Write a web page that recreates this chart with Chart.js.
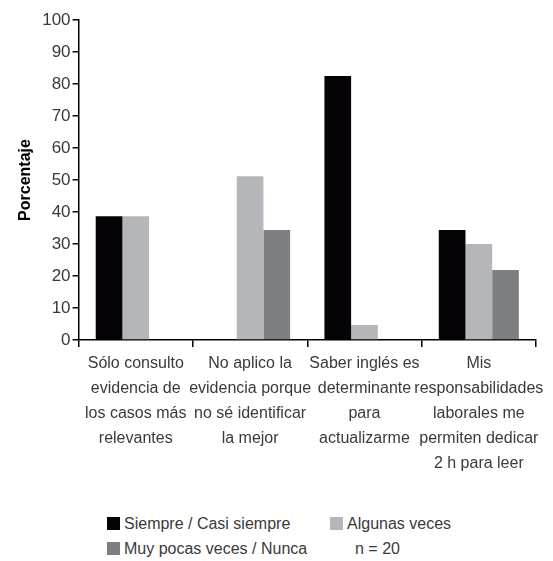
<!DOCTYPE html>
<html>
<head>
<meta charset="utf-8">
<script src="https://cdn.jsdelivr.net/npm/chart.js@4.4.1/dist/chart.umd.min.js"></script>
<style>
    body { margin: 0; background: #fff; }
    #wrap { position: relative; width: 553px; height: 561px; }
    #legend {
        position: absolute; left: 107px; top: 511px;
        font-family: "Liberation Sans", Arial, sans-serif;
        font-size: 16px; color: #3a3a3a;
    }
    .row { display: flex; height: 25px; align-items: center; }
    .item { display: flex; align-items: center; width: 223px; }
    .box { width: 13px; height: 13px; margin-right: 4px; }
</style>
</head>
<body>
<div id="wrap">
    <canvas id="chart" width="553" height="480"></canvas>
    <div id="legend"></div>
</div>
<script>
const categories = [
    ["Sólo consulto", "evidencia de", "los casos más", "relevantes"],
    ["No aplico la", "evidencia porque", "no sé identificar", "la mejor"],
    ["Saber inglés es", "determinante", "para", "actualizarme"],
    ["Mis", "responsabilidades", "laborales me", "permiten dedicar", "2 h para leer"]
];
const seriesNames = ["Siempre / Casi siempre", "Algunas veces", "Muy pocas veces / Nunca"];
const siempre = [38.7, 0, 82.5, 34.4];
const algunas = [38.7, 51.2, 4.7, 30.0];
const pocas = [0, 34.4, 0, 21.9];
const colors = ["#050305", "#b5b6b9", "#7e7f83"];
const yTicks = [0, 10, 20, 30, 40, 50, 60, 70, 80, 90, 100];
const note = "n = 20";

const font = "'Liberation Sans', Arial, sans-serif";
const textColor = "#3a3a3a";

new Chart(document.getElementById("chart"), {
    type: "bar",
    data: {
        labels: categories,
        datasets: [siempre, algunas, pocas].map((vals, i) => ({
            label: seriesNames[i],
            data: vals,
            backgroundColor: colors[i],
            borderWidth: 0,
            categoryPercentage: 0.7,
            barPercentage: 1.0
        }))
    },
    options: {
        responsive: false,
        animation: false,
        layout: { padding: { top: 20, right: 17, left: 16, bottom: 0 } },
        plugins: { legend: { display: false }, tooltip: { enabled: false } },
        scales: {
            x: {
                border: { color: "#000", width: 1.5 },
                grid: { drawOnChartArea: false, color: "#000", tickLength: 7, lineWidth: 1.5 },
                ticks: {
                    color: textColor, maxRotation: 0, autoSkip: false, padding: 4,
                    font: { family: font, size: 16, lineHeight: "25px" }
                }
            },
            y: {
                min: 0, max: 100,
                afterBuildTicks: axis => { axis.ticks = yTicks.map(v => ({ value: v })); },
                border: { color: "#000", width: 1.5 },
                grid: { drawOnChartArea: false, color: "#000", tickLength: 6, lineWidth: 1.5 },
                ticks: {
                    color: textColor, padding: 2,
                    font: { family: font, size: 17 }
                },
                title: {
                    display: true, text: "Porcentaje", color: "#000",
                    font: { family: font, size: 16, weight: "bold" }, padding: { top: 0, bottom: 5 }
                }
            }
        }
    }
});

const legend = document.getElementById("legend");
const cells = [[0, 1], [2, -1]];
cells.forEach(pair => {
    const row = document.createElement("div");
    row.className = "row";
    pair.forEach(idx => {
        const item = document.createElement("div");
        item.className = "item";
        if (idx >= 0) {
            item.innerHTML = `<span class="box" style="background:${colors[idx]}"></span>${seriesNames[idx]}`;
        } else {
            item.innerHTML = `<span style="margin-left:25px">${note}</span>`;
        }
        row.appendChild(item);
    });
    legend.appendChild(row);
});
</script>
</body>
</html>
